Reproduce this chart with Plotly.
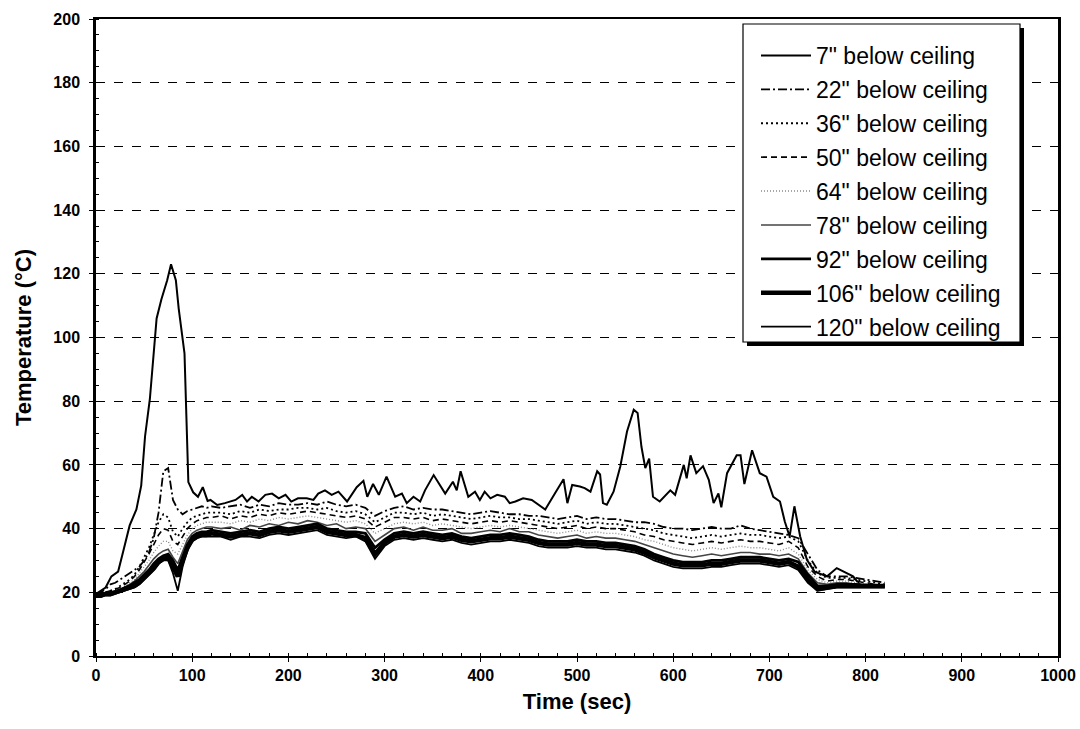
import plotly.graph_objects as go

# ---------------- data ----------------
# 7" below ceiling (own sample times, vertices)
t7 = [0, 5, 10, 16, 23, 28, 35, 42, 47, 51, 56, 63, 68, 74, 78, 83, 86, 92, 94, 96,
      101, 106, 111, 116, 119, 126, 134, 145, 152, 157, 162, 169, 176, 183, 190, 197,
      203, 210, 219, 226, 231, 238, 245, 252, 261, 271, 278, 282, 288, 294, 302, 311,
      318, 323, 330, 337, 342, 351, 363, 371, 375, 379, 387, 394, 399, 404, 410, 417,
      425, 430, 436, 444, 453, 458, 467, 477, 486, 490, 495, 503, 508, 514, 521, 524,
      527, 531, 538, 545, 552, 559, 563, 567, 571, 575, 579, 586, 592, 597, 602, 611,
      614, 618, 624, 631, 637, 642, 647, 650, 656, 661, 666, 670, 674, 682, 690, 697,
      704, 711, 716, 721, 726, 732, 739, 747, 760, 770, 780, 787, 794, 818]
v7 = [19.5, 20.5, 21.5, 25, 26.5, 32.5, 41, 46, 53.5, 69, 80.7, 106, 112, 118, 123, 118, 109, 95, 76.5, 54.6,
      51.4, 50, 53, 48.7, 49, 47.4, 48, 49, 50.6, 48.5, 50, 48.5, 50.6, 51, 49.5, 50.6,
      48.5, 49.5, 49.5, 49, 51, 52, 50.6, 51.6, 48.5, 53, 55, 50, 54, 50.6, 56.3, 50,
      51, 48, 50, 48.5, 52, 56.8, 51, 54.7, 52, 58, 50, 51.6, 49, 51.6, 49.5, 50.6,
      50, 48, 48.5, 49.5, 49, 48, 46, 51, 55.5, 48, 53.7, 53.2, 52.7, 51.6, 58, 57,
      48, 47.5, 51.6, 59.5, 70.5, 77.3, 76.3, 65.7, 59, 62, 50, 48.5, 50.6, 52, 50.6, 60,
      55.8, 63, 57.4, 59.6, 55.3, 48, 51, 46.7, 57.4, 60, 63, 63, 54, 64.6, 57.4, 56.3,
      50, 48.5, 42.2, 37.5, 47, 37.5, 30.2, 26.5, 25, 27.6, 26, 25, 22.4, 22]

# common sample times for the other probes
t_other = list(range(0, 121, 5)) + list(range(130, 821, 10))

s22 = [19.5, 20, 21, 22.5, 23, 24, 25, 26, 27, 28, 30, 32.5, 37, 45, 58, 59, 49, 46, 44.5, 45.5, 46, 46.5, 47, 46.5, 47,
       46.5, 47, 47.5, 46.5, 47.5, 47, 48, 47.5, 47.5, 48, 47.5, 48.5, 47.5, 47, 47.5, 46.5, 44, 45.5, 46.5, 47,
       46, 46.5, 46, 46, 45.5, 45, 44.5, 45, 45.5, 45, 44.5, 44.5, 44, 44, 43.5, 43, 43.5, 44, 43, 43.5,
       43, 43, 42.5, 42, 42, 41.5, 40.5, 40, 40, 39.5, 40, 40.5, 40, 40, 41, 40, 39.5, 39, 38.5, 38,
       37, 32, 27, 25, 25, 25, 24.5, 24, 23.5, 23]
s36 = [19, 19.5, 20, 20.5, 21, 22, 23, 24, 25.5, 28, 31, 34, 38, 42, 44.5, 43.5, 39, 37.5, 40, 42, 43.5, 44, 44.5, 45, 45,
       45, 44.5, 45.5, 45, 46, 45.5, 46, 46, 46.5, 46.5, 46, 46.5, 45.5, 45, 45.5, 44.5, 42, 43.5, 45, 45,
       44.5, 45, 44, 44.5, 44, 43.5, 43, 43.5, 44, 43.5, 43.5, 43, 43, 42.5, 42, 41.5, 42, 42.5, 41.5, 42,
       41.5, 41.5, 41, 40.5, 40, 39.5, 38.5, 38, 37.5, 37, 37.5, 38, 37.5, 38, 38.5, 38, 38, 37.5, 37, 37.5,
       36, 30, 26, 24.5, 24.5, 24.5, 24, 23.5, 23, 22.5]
s50 = [19, 19.5, 20, 20.5, 21, 21.5, 22.5, 23.5, 25, 27, 29.5, 32, 35, 38, 40, 39.5, 36, 35, 37.5, 40, 41.5, 42.5, 43, 43.5, 43.5,
       44, 43, 44, 43.5, 44.5, 44, 45, 44.5, 45, 45.5, 45, 44.5, 44, 43.5, 44, 43, 40.5, 42, 43.5, 43.5,
       43, 43.5, 42.5, 43, 42.5, 42, 41.5, 42, 42.5, 42, 42.5, 42, 41.5, 41, 40.5, 40, 40.5, 41, 40, 40.5,
       40, 40, 39.5, 39, 38, 37.5, 36.5, 36, 35.5, 35, 35.5, 36, 35.5, 36, 36.5, 36, 36, 35.5, 35, 36,
       34, 28, 25, 23.5, 24, 24, 23.5, 23, 22.5, 22]
s64 = [19, 19, 19.5, 20, 20.5, 21, 22, 23, 24, 26, 28, 30, 32.5, 34.5, 36, 36, 33, 32, 35, 38, 40, 41, 41.5, 42, 42,
       42, 41.5, 42.5, 42, 43, 42.5, 43.5, 43, 43.5, 44, 43.5, 43, 42.5, 42, 42.5, 41.5, 38.5, 40, 41.5, 42,
       41.5, 42, 41, 41.5, 41, 40.5, 40, 40.5, 41, 40.5, 41, 40.5, 40, 39.5, 39, 38.5, 39, 39.5, 38.5, 39,
       38.5, 38.5, 38, 37.5, 36.5, 36, 35, 34, 33.5, 33, 33.5, 34, 33.5, 34, 34.5, 34, 34, 33.5, 33, 34,
       32, 27, 24, 23, 23.5, 23.5, 23, 22.5, 22.5, 22]
s78 = [19, 19, 19.5, 20, 20.5, 21, 21.5, 22.5, 23.5, 25, 26.5, 28.5, 30.5, 32, 33, 33.5, 31, 29, 33, 36.5, 38.5, 39.5, 40, 40.5, 40.5,
       40, 40.5, 39.5, 41, 40.5, 41.5, 41, 42, 41.5, 42.5, 42, 41, 41.5, 40, 40.5, 40, 36, 38, 40, 40.5,
       39.5, 40.5, 39.5, 39.5, 40, 38.5, 38.5, 39, 39.5, 39, 40, 39, 39, 38, 37.5, 37, 37.5, 38, 37, 37.5,
       37, 37, 36.5, 36, 35, 34, 33, 32, 31.5, 31, 31.5, 32, 31.5, 32, 32.5, 32.5, 32, 32, 31.5, 32,
       30.5, 26, 23, 22.5, 23, 23, 22.5, 22.5, 22, 22]
s92 = [19, 19, 19.5, 20, 20, 20.5, 21.5, 22, 23, 24, 25.5, 27, 29, 30.5, 31.5, 32, 30, 27, 31, 35, 37.5, 38.5, 39, 39, 39.5,
       39, 38.5, 39, 39.5, 39, 40, 40.5, 40, 40.5, 41, 41.5, 40, 39.5, 39, 39, 38.5, 34, 36.5, 38.5, 39,
       38.5, 39, 38.5, 38, 38.5, 37.5, 37, 37.5, 38, 38, 38.5, 38, 37.5, 36.5, 36, 36, 36, 36.5, 36, 36,
       35.5, 35.5, 35, 34.5, 33.5, 32, 31, 30, 29.5, 29.5, 29.5, 30, 30, 30.5, 31, 31, 31, 30.5, 30, 30.5,
       29.5, 25.5, 22, 22, 22.5, 22.5, 22.5, 22, 22, 22]
s106 = [19, 19, 19.5, 19.5, 20, 20.5, 21, 21.5, 22, 23, 24.5, 26, 27.5, 29.5, 30.5, 31, 28, 25, 30, 34, 36.5, 37.5, 38, 38, 38.5,
        38, 37.5, 38, 38.5, 38, 39, 39.5, 39, 39.5, 40, 40.5, 39, 38.5, 38, 38, 37, 32, 35.5, 37.5, 38,
        37.5, 38, 37.5, 37, 37.5, 36.5, 36, 36.5, 37, 37, 37.5, 37, 36.5, 35.5, 35, 35, 35, 35.5, 35, 35,
        34.5, 34.5, 34, 33.5, 32.5, 31, 30, 29, 28.5, 28.5, 28.5, 29, 29, 29.5, 30, 30, 30, 29.5, 29, 29.5,
        28, 24, 21, 21.5, 22, 22, 22, 22, 22, 22]
s120 = [18.5, 18.5, 19, 19, 19.5, 20, 20.5, 21, 21.5, 22.5, 24, 25.5, 27, 29, 30, 30, 26, 20.5, 28, 33, 36, 37, 37.5, 37.5, 37.5,
        37.5, 36.5, 37.5, 37.5, 37, 38, 38.5, 38, 38.5, 39, 39.5, 38, 37.5, 37, 37.5, 36, 30.5, 34.5, 36.5, 37,
        36.5, 37, 36.5, 36, 36.5, 35.5, 35, 35.5, 36, 36, 36.5, 36, 35.5, 34.5, 34, 34, 34, 34.5, 34, 34,
        33.5, 33.5, 33, 32.5, 31.5, 30, 29, 28, 27.5, 27.5, 27.5, 28, 28, 28.5, 29, 29, 29, 28.5, 28, 28.5,
        27, 23, 20.5, 21, 21.5, 21.5, 21.5, 21.5, 21.5, 21.5]

series_names = ['7" below ceiling', '22" below ceiling', '36" below ceiling', '50" below ceiling',
                '64" below ceiling', '78" below ceiling', '92" below ceiling', '106" below ceiling',
                '120" below ceiling']

x_ticks = [0, 100, 200, 300, 400, 500, 600, 700, 800, 900, 1000]
y_ticks = [0, 20, 40, 60, 80, 100, 120, 140, 160, 180, 200]

# ---------------- styles ----------------
styles = [
    dict(color="black", width=2.0, dash="solid"),
    dict(color="black", width=1.8, dash="9px,3px,2px,3px"),
    dict(color="black", width=1.8, dash="2px,3px"),
    dict(color="black", width=1.6, dash="6px,4px"),
    dict(color="#8a8a8a", width=1.4, dash="1px,2px"),
    dict(color="#444444", width=1.6, dash="solid"),
    dict(color="black", width=2.8, dash="solid"),
    dict(color="black", width=4.5, dash="solid"),
    dict(color="black", width=1.8, dash="solid"),
]

others = [s22, s36, s50, s64, s78, s92, s106, s120]
for s in others:
    assert len(s) == len(t_other), len(s)
assert len(t7) == len(v7)

fig = go.Figure()
fig.add_trace(go.Scatter(x=t7, y=v7, mode="lines", name=series_names[0], line=styles[0],
                         legendgroup="g0"))
for i, s in enumerate(others, start=1):
    fig.add_trace(go.Scatter(x=t_other, y=s, mode="lines", name=series_names[i], line=styles[i],
                             legendgroup=f"g{i}"))

font_family = "Liberation Sans, Arial, sans-serif"

W, H = 1080, 729
ml, mr, mt, mb = 96, 22, 19, 73
pw, ph = W - ml - mr, H - mt - mb
def px2paper_x(px): return (px - ml) / pw
def px2paper_y(py): return (H - mb - py) / ph

# legend frame + drop shadow (pixel box converted to paper coords)
L, R, B, Tp = 743, 1020, 342, 24
fig.add_shape(type="rect", xref="paper", yref="paper",
              x0=px2paper_x(L + 4), x1=px2paper_x(R + 4),
              y0=px2paper_y(B + 4), y1=px2paper_y(Tp + 4),
              fillcolor="black", line=dict(width=0), layer="above")
fig.add_shape(type="rect", xref="paper", yref="paper",
              x0=px2paper_x(L), x1=px2paper_x(R),
              y0=px2paper_y(B), y1=px2paper_y(Tp),
              fillcolor="white", line=dict(color="black", width=1.2), layer="above")

fig.update_layout(
    width=W, height=H,
    margin=dict(l=ml, r=mr, t=mt, b=mb, pad=0, autoexpand=False),
    paper_bgcolor="white", plot_bgcolor="white",
    font=dict(family=font_family, color="black"),
    showlegend=True,
    legend=dict(
        x=px2paper_x(756), xanchor="left",
        y=px2paper_y(34), yanchor="top",
        bgcolor="rgba(0,0,0,0)", borderwidth=0,
        font=dict(family=font_family, size=23, color="black"),
        itemwidth=50, tracegroupgap=1,
    ),
    xaxis=dict(
        range=[0, 1000], tickvals=x_ticks, ticktext=[str(v) for v in x_ticks],
        showgrid=False, zeroline=False, automargin=False,
        showline=True, linecolor="black", linewidth=2, mirror=True,
        ticks="outside", ticklen=4, tickcolor="black",
        tickfont=dict(family=font_family, size=16, color="black", weight="bold"),
        minor=dict(dtick=20, ticks="inside", ticklen=3, tickcolor="black", showgrid=False),
        title=dict(text="<b>Time (sec)</b>", font=dict(family=font_family, size=22), standoff=10),
    ),
    yaxis=dict(
        range=[0, 200], tickvals=y_ticks, ticktext=[str(v) for v in y_ticks],
        showgrid=True, gridcolor="black", gridwidth=1, griddash="dash",
        zeroline=False, automargin=False,
        showline=True, linecolor="black", linewidth=2.5, mirror=True,
        ticks="outside", ticklen=4, tickcolor="black", ticklabelstandoff=6,
        tickfont=dict(family=font_family, size=16, color="black", weight="bold"),
        minor=dict(dtick=5, ticks="inside", ticklen=3, tickcolor="black", showgrid=False),
        title=dict(text="<b>Temperature (°C)</b>", font=dict(family=font_family, size=22), standoff=16),
    ),
)

fig.write_html("out.html")
